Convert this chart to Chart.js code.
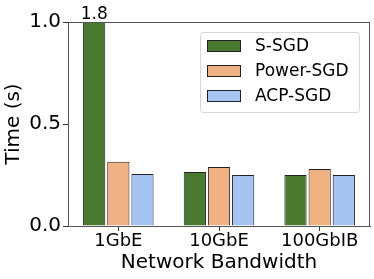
<!DOCTYPE html>
<html>
<head>
<meta charset="utf-8">
<script src="https://cdn.jsdelivr.net/npm/chart.js@4"></script>
<style>
  html, body { margin: 0; padding: 0; background: #fff; }
  #wrap { width: 374px; height: 279px; }
</style>
</head>
<body>
<div id="wrap"><canvas id="chart" width="374" height="279"></canvas></div>
<script>
// data
const categories = ['1GbE', '10GbE', '100GbIB'];
const seriesNames = ['S-SGD', 'Power-SGD', 'ACP-SGD'];
const ssgd = [1.8, 0.265, 0.25];
const powerSgd = [0.315, 0.289, 0.279];
const acpSgd = [0.255, 0.25, 0.25];
const yTicks = [0.0, 0.5, 1.0];
const colors = ['#4a7a2f', '#f0b183', '#a6c4f2'];

const FONT = 'DejaVu Sans';

// frame around the plot area, like matplotlib spines
const framePlugin = {
    id: 'frame',
    afterDraw(chart) {
        const a = chart.chartArea;
        const ctx = chart.ctx;
        ctx.save();
        ctx.strokeStyle = '#555';
        ctx.lineWidth = 1;
        ctx.strokeRect(a.left + 0.5, a.top + 0.5, a.right - a.left - 1, a.bottom - a.top);
        ctx.restore();
    }
};

// value label for the clipped bar
const clipLabelPlugin = {
    id: 'clipLabel',
    afterDatasetsDraw(chart) {
        const ctx = chart.ctx;
        const meta = chart.getDatasetMeta(0);
        const yMax = chart.scales.y.max;
        ctx.save();
        ctx.font = '17px ' + FONT;
        ctx.fillStyle = '#000';
        ctx.textAlign = 'center';
        ctx.textBaseline = 'bottom';
        ssgd.forEach((v, i) => {
            if (v > yMax) {
                ctx.fillText(v.toFixed(1), meta.data[i].x, chart.chartArea.top + 1);
            }
        });
        ctx.restore();
    }
};

// legend drawn inside the plot, upper right
const innerLegendPlugin = {
    id: 'innerLegend',
    afterDraw(chart) {
        const ctx = chart.ctx;
        const a = chart.chartArea;
        const boxW = 159, boxH = 80;
        const x0 = a.right - 11 - boxW;
        const y0 = a.top + 10;
        ctx.save();
        ctx.fillStyle = 'rgba(255,255,255,0.8)';
        ctx.strokeStyle = '#d6d6d6';
        ctx.lineWidth = 1;
        ctx.beginPath();
        ctx.roundRect(x0 + 0.5, y0 + 0.5, boxW, boxH, 3);
        ctx.fill();
        ctx.stroke();
        ctx.font = '17px ' + FONT;
        ctx.textBaseline = 'middle';
        chart.data.datasets.forEach((ds, i) => {
            const cy = y0 + 14 + i * 25;
            ctx.fillStyle = ds.backgroundColor;
            ctx.fillRect(x0 + 7, cy - 6, 34, 12);
            ctx.strokeStyle = '#222';
            ctx.strokeRect(x0 + 7.5, cy - 5.5, 33, 11);
            ctx.fillStyle = '#000';
            ctx.fillText(ds.label, x0 + 55, cy + 1);
        });
        ctx.restore();
    }
};

const makeDataset = (label, data, color) => ({
    label: label,
    data: data,
    backgroundColor: color,
    borderColor: '#222',
    borderWidth: 1,
    barPercentage: 0.92,
    categoryPercentage: 0.72
});

new Chart(document.getElementById('chart'), {
    type: 'bar',
    data: {
        labels: categories,
        datasets: [
            makeDataset(seriesNames[0], ssgd, colors[0]),
            makeDataset(seriesNames[1], powerSgd, colors[1]),
            makeDataset(seriesNames[2], acpSgd, colors[2])
        ]
    },
    options: {
        responsive: false,
        animation: false,
        devicePixelRatio: 1,
        layout: { padding: { top: 22, right: 4, left: 0, bottom: 0 } },
        plugins: {
            legend: { display: false },
            tooltip: { enabled: false }
        },
        scales: {
            x: {
                grid: { drawOnChartArea: false, offset: false, tickLength: 5, color: '#333' },
                border: { color: '#555' },
                ticks: { color: '#000', font: { family: FONT, size: 18 }, padding: 0 },
                title: { display: true, text: 'Network Bandwidth', color: '#000', font: { family: FONT, size: 20 }, padding: { top: -1 } },
                afterFit(scale) { scale.height = 53; }
            },
            y: {
                min: 0,
                max: 1,
                afterBuildTicks(scale) { scale.ticks = yTicks.map(v => ({ value: v })); },
                grid: { drawOnChartArea: false, tickLength: 5, color: '#333' },
                border: { color: '#555' },
                ticks: {
                    color: '#000',
                    font: { family: FONT, size: 20 },
                    padding: 2,
                    callback: v => v.toFixed(1)
                },
                title: { display: true, text: 'Time (s)', color: '#000', font: { family: FONT, size: 20 }, padding: { top: 2, bottom: 0 } },
                afterFit(scale) { scale.width = 68; }
            }
        }
    },
    plugins: [framePlugin, clipLabelPlugin, innerLegendPlugin]
});
</script>
</body>
</html>
